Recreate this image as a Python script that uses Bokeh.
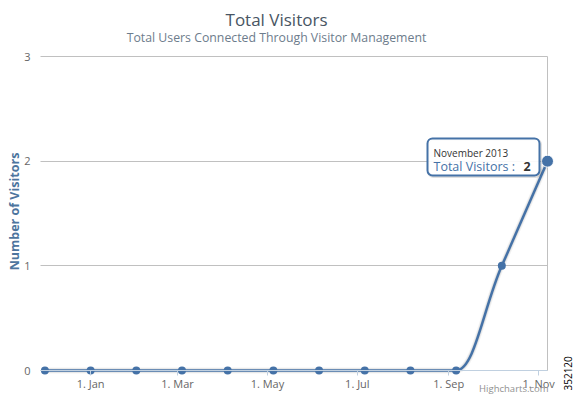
import math
import pandas as pd
from bokeh.plotting import figure
from bokeh.models import Range1d, FixedTicker, Label, BoxAnnotation
from bokeh.embed import file_html
from bokeh.resources import INLINE

# ---------------- data ----------------
title_text = "Total Visitors"
subtitle_text = "Total Users Connected Through Visitor Management"
y_axis_title = "Number of Visitors"
series_name = "Total Visitors"

point_dates = ["2012-12-01", "2013-01-01", "2013-02-01", "2013-03-04",
               "2013-04-04", "2013-05-05", "2013-06-05", "2013-07-06",
               "2013-08-06", "2013-09-06", "2013-10-07", "2013-11-07"]
visitors = [0, 0, 0, 0, 0, 0, 0, 0, 0, 0, 1, 2]

x_tick_dates = ["2013-01-01", "2013-03-01", "2013-05-01",
                "2013-07-01", "2013-09-01", "2013-11-01"]
x_tick_labels = ["1. Jan", "1. Mar", "1. May", "1. Jul", "1. Sep", "1. Nov"]
y_ticks = [0, 1, 2, 3]

tooltip_header = "November 2013"
credits_text = "Highcharts.com"
side_note = "352120"

# ---------------- helpers ----------------
def to_ms(d):
    return pd.Timestamp(d).value / 1e6

DAY = 86400000.0
xs = [to_ms(d) for d in point_dates]
tick_ms = [to_ms(d) for d in x_tick_dates]

FONT = "Open Sans"
BLUE = "#4572A7"

# canvas and plot-area geometry (pixels from the figure's top-left)
W, H = 574, 396
PL, PR, PT, PB = 40, 547, 56, 370

x_lo = xs[0] - 3 * DAY          # left edge of the plot area
x_hi = xs[-1]                   # right edge of the plot area
y_lo, y_hi = y_ticks[0], y_ticks[-1]

mpp = (x_hi - x_lo) / (PR - PL)   # data-x per pixel
upp = (y_hi - y_lo) / (PB - PT)   # data-y per pixel
x_range = Range1d(x_lo - PL * mpp, x_hi + (W - PR) * mpp)
y_range = Range1d(y_lo - (H - PB) * upp, y_hi + PT * upp)


def X(px):
    return x_range.start + px * mpp


def Y(py):
    return y_range.end - py * upp


def spline(xv, yv, smoothing=1.5):
    """Highcharts-like spline control points."""
    n = len(xv)
    lc = [(xv[i], yv[i]) for i in range(n)]
    rc = [(xv[i], yv[i]) for i in range(n)]
    d = smoothing + 1
    for i in range(1, n - 1):
        px, py = xv[i], yv[i]
        lx, ly = xv[i - 1], yv[i - 1]
        nx, ny = xv[i + 1], yv[i + 1]
        lcx = (smoothing * px + lx) / d
        lcy = (smoothing * py + ly) / d
        rcx = (smoothing * px + nx) / d
        rcy = (smoothing * py + ny) / d
        corr = ((rcy - lcy) * (rcx - px)) / (rcx - lcx) + py - rcy
        lcy += corr
        rcy += corr
        if lcy > ly and lcy > py:
            lcy = max(ly, py); rcy = 2 * py - lcy
        elif lcy < ly and lcy < py:
            lcy = min(ly, py); rcy = 2 * py - lcy
        if rcy > ny and rcy > py:
            rcy = max(ny, py); lcy = 2 * py - rcy
        elif rcy < ny and rcy < py:
            rcy = min(ny, py); lcy = 2 * py - rcy
        lc[i] = (lcx, lcy)
        rc[i] = (rcx, rcy)
    seg = dict(x0=[], y0=[], x1=[], y1=[], cx0=[], cy0=[], cx1=[], cy1=[])
    for i in range(1, n):
        seg["x0"].append(xv[i - 1]); seg["y0"].append(yv[i - 1])
        seg["x1"].append(xv[i]); seg["y1"].append(yv[i])
        seg["cx0"].append(rc[i - 1][0]); seg["cy0"].append(rc[i - 1][1])
        seg["cx1"].append(lc[i][0]); seg["cy1"].append(lc[i][1])
    return seg


# ---------------- figure ----------------
p = figure(width=W, height=H, x_axis_type="datetime",
           x_range=x_range, y_range=y_range,
           output_backend="svg", toolbar_location=None, title=None,
           min_border_left=0, min_border_right=0,
           min_border_top=0, min_border_bottom=0,
           background_fill_color="white", border_fill_color="white",
           outline_line_color=None)

xa = p.xaxis[0]
xa.fixed_location = y_lo
xa.bounds = (x_lo, x_hi)
xa.ticker = FixedTicker(ticks=tick_ms)
xa.major_label_overrides = {t: lab for t, lab in zip(tick_ms, x_tick_labels)}
xa.axis_line_color = "#C0D0E0"
xa.major_tick_line_color = "#C0D0E0"
xa.major_tick_out = 5
xa.major_tick_in = 0
xa.minor_tick_line_color = None
xa.major_label_standoff = 0
xa.major_label_text_font = FONT
xa.major_label_text_font_size = "11px"
xa.major_label_text_color = "#666666"
p.xgrid.visible = False

ya = p.yaxis[0]
ya.fixed_location = x_lo
ya.bounds = (y_lo, y_hi)
ya.ticker = FixedTicker(ticks=y_ticks)
ya.axis_line_color = None
ya.major_tick_line_color = None
ya.minor_tick_line_color = None
ya.major_tick_out = 0
ya.major_tick_in = 0
ya.major_label_standoff = 10
ya.major_label_text_font = FONT
ya.major_label_text_font_size = "11px"
ya.major_label_text_color = "#666666"

yg = p.ygrid[0]
yg.grid_line_color = "#C0C0C0"
if "cross_bounds" in yg.properties():
    yg.cross_bounds = (x_lo, x_hi)
else:
    yg.visible = False
    p.segment(x0=[x_lo] * len(y_ticks), y0=y_ticks, x1=[x_hi] * len(y_ticks),
              y1=y_ticks, line_color="#C0C0C0", line_width=1, level="underlay")

# y-axis title
p.add_layout(Label(x=X(14), y=Y(211), text=y_axis_title, angle=math.pi / 2,
                   text_align="center", text_baseline="middle", text_font=FONT,
                   text_font_size="12.5px", text_font_style="bold",
                   text_color="#4d759e"))

# crosshair at hovered point
p.segment(x0=xs[-1:], y0=[y_lo], x1=xs[-1:], y1=[y_hi],
          line_color="#C0C0C0", line_width=1)

# series (spline with soft shadow)
seg = spline(xs, visitors)
p.bezier(**seg, line_color="black", line_alpha=0.05, line_width=6)
p.bezier(**seg, line_color="black", line_alpha=0.08, line_width=4)
p.bezier(**seg, line_color=BLUE, line_width=2.5)
p.scatter(xs, visitors, size=8, fill_color=BLUE, line_color=None)
p.scatter(xs[-1:], visitors[-1:], size=12, fill_color=BLUE,
          line_color="white", line_width=1)

# titles
p.add_layout(Label(x=X(276), y=Y(19), text=title_text, text_align="center",
                   text_baseline="middle", text_font=FONT,
                   text_font_size="17px", text_color="#485563"))
p.add_layout(Label(x=X(276), y=Y(37), text=subtitle_text, text_align="center",
                   text_baseline="middle", text_font=FONT,
                   text_font_size="12.3px", text_color="#6D7C8C"))

# tooltip
p.add_layout(BoxAnnotation(left=X(428), right=X(540), top=Y(139), bottom=Y(176),
                           fill_color=None, line_color="black", line_alpha=0.12,
                           line_width=3, border_radius=5))
p.add_layout(BoxAnnotation(left=X(427), right=X(539), top=Y(138), bottom=Y(175),
                           fill_color="white", fill_alpha=0.92,
                           line_color=BLUE, line_alpha=1, line_width=2,
                           border_radius=5))
p.add_layout(Label(x=X(433), y=Y(152), text=tooltip_header, text_align="left",
                   text_baseline="middle", text_font=FONT,
                   text_font_size="10px", text_color="#333333"))
p.add_layout(Label(x=X(433), y=Y(165.5), text=series_name + " : ",
                   text_align="left", text_baseline="middle", text_font=FONT,
                   text_font_size="12.5px", text_color=BLUE))
p.add_layout(Label(x=X(523), y=Y(165.5), text=str(visitors[-1]),
                   text_align="left", text_baseline="middle", text_font=FONT,
                   text_font_size="12.5px", text_font_style="bold",
                   text_color="#333333"))

# credits and side note
p.add_layout(Label(x=X(548), y=Y(387.5), text=credits_text, text_align="right",
                   text_baseline="middle", text_font=FONT,
                   text_font_size="9.5px", text_color="#909090"))
p.add_layout(Label(x=X(567), y=Y(390), text=side_note, text_align="left",
                   text_baseline="middle", text_font=FONT, angle=math.pi / 2,
                   text_font_size="10px", text_color="black"))

open("out.html", "w").write(file_html(p, INLINE))
